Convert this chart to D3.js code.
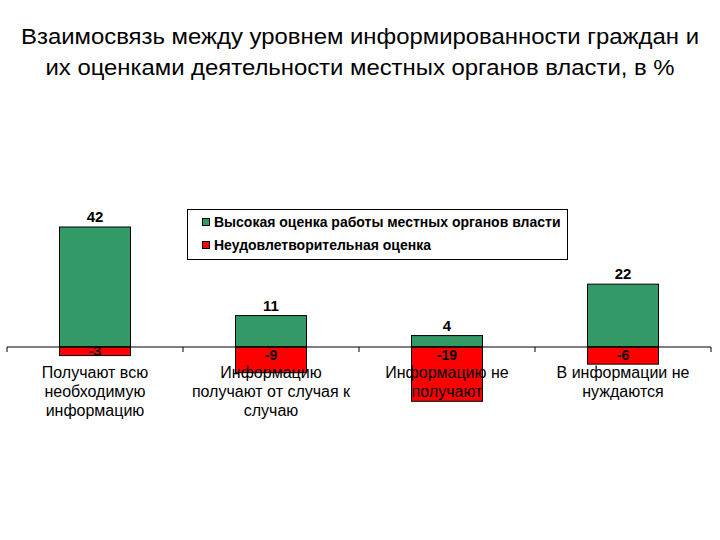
<!DOCTYPE html>
<html><head><meta charset="utf-8">
<script src="https://cdn.jsdelivr.net/npm/d3@7"></script>
<style>body{margin:0;background:#fff;} svg{display:block;}</style>
</head><body>
<svg id="chart" width="720" height="540"></svg>
<script>
const categories = [
  ["Получают всю", "необходимую", "информацию"],
  ["Информацию", "получают от случая к", "случаю"],
  ["Информацию не", "получают"],
  ["В информации не", "нуждаются"]
];
const highValues = [42, 11, 4, 22];
const lowValues = [-3, -9, -19, -6];
const seriesNames = ["Высокая оценка работы местных органов власти", "Неудовлетворительная оценка"];
const seriesColors = ["#339966", "#FF0000"];
const titleLines = ["Взаимосвязь между уровнем информированности граждан и", "их оценками деятельности местных органов власти, в %"];

const svg = d3.select("#chart");
const font = "Liberation Sans, Arial, sans-serif";

// title
const titleWidths = [678, 629];
svg.selectAll("text.title").data(titleLines).join("text")
  .attr("class","title")
  .attr("x", 360).attr("y", (d,i)=>44 + i*31)
  .attr("text-anchor","middle")
  .attr("font-family", font).attr("font-size", 22)
  .attr("textLength",(d,i)=>titleWidths[i]).attr("lengthAdjust","spacingAndGlyphs")
  .attr("fill","#000").text(d=>d);

const x = d3.scaleBand().domain(d3.range(categories.length)).range([7, 711]).paddingInner(0).paddingOuter(0);
const y = d3.scaleLinear().domain([0, 42]).range([347, 227]);
const bw = 71;

const g = svg.append("g");
g.selectAll("rect.high").data(highValues).join("rect")
  .attr("x",(d,i)=>x(i)+x.bandwidth()/2 - bw/2)
  .attr("y",d=>y(d))
  .attr("width",bw).attr("height",d=>y(0)-y(d))
  .attr("fill",seriesColors[0]).attr("stroke","#000").attr("stroke-width",1);
g.selectAll("rect.low").data(lowValues).join("rect")
  .attr("x",(d,i)=>x(i)+x.bandwidth()/2 - bw/2)
  .attr("y",y(0))
  .attr("width",bw).attr("height",d=>y(d)-y(0))
  .attr("fill",seriesColors[1]).attr("stroke","#000").attr("stroke-width",1);

// axis
const axisG = svg.append("g").attr("transform","translate(0,"+y(0)+")");
axisG.append("line").attr("x1",7).attr("x2",711).attr("y1",0).attr("y2",0).attr("stroke","#000");
const tickPos = d3.range(categories.length+1).map(i=> i<categories.length ? x(i) : 711);
axisG.selectAll("line.tick").data(tickPos).join("line")
  .attr("x1",d=>d).attr("x2",d=>d).attr("y1",0).attr("y2",5).attr("stroke","#000");

// category labels
const catG = svg.selectAll("text.cat").data(categories).join("text")
  .attr("class","cat")
  .attr("text-anchor","middle")
  .attr("font-family",font).attr("font-size",16).attr("fill","#000");
catG.each(function(lines,i){
  d3.select(this).selectAll("tspan").data(lines).join("tspan")
    .attr("x", x(i)+x.bandwidth()/2)
    .attr("y", (d,j)=>378 + j*19)
    .text(d=>d);
});

// value labels
svg.selectAll("text.hv").data(highValues).join("text")
  .attr("x",(d,i)=>x(i)+x.bandwidth()/2)
  .attr("y",d=>y(d)-5)
  .attr("text-anchor","middle")
  .attr("font-family",font).attr("font-size",15).attr("font-weight","bold")
  .text(d=>d);
svg.selectAll("text.lv").data(lowValues).join("text")
  .attr("x",(d,i)=>x(i)+x.bandwidth()/2)
  .attr("y",d=>Math.min((y(0)+y(d))/2, y(0)+8))
  .attr("dy","0.35em")
  .attr("text-anchor","middle")
  .attr("font-family",font).attr("font-size",14).attr("font-weight","bold")
  .text(d=>d);

// legend
const lg = svg.append("g");
lg.append("rect").attr("x",187.5).attr("y",209.5).attr("width",380).attr("height",50)
  .attr("fill","#fff").attr("stroke","#000");
const li = lg.selectAll("g.li").data(seriesNames).join("g")
  .attr("transform",(d,i)=>"translate(0,"+(222 + i*23)+")");
li.append("rect").attr("x",202.5).attr("y",-3.5).attr("width",7).attr("height",7)
  .attr("fill",(d,i)=>seriesColors[i]).attr("stroke","#000");
li.append("text").attr("x",214).attr("y",0).attr("dy","0.35em")
  .attr("font-family",font).attr("font-size",14).attr("font-weight","bold")
  .text(d=>d);
</script>
</body></html>
